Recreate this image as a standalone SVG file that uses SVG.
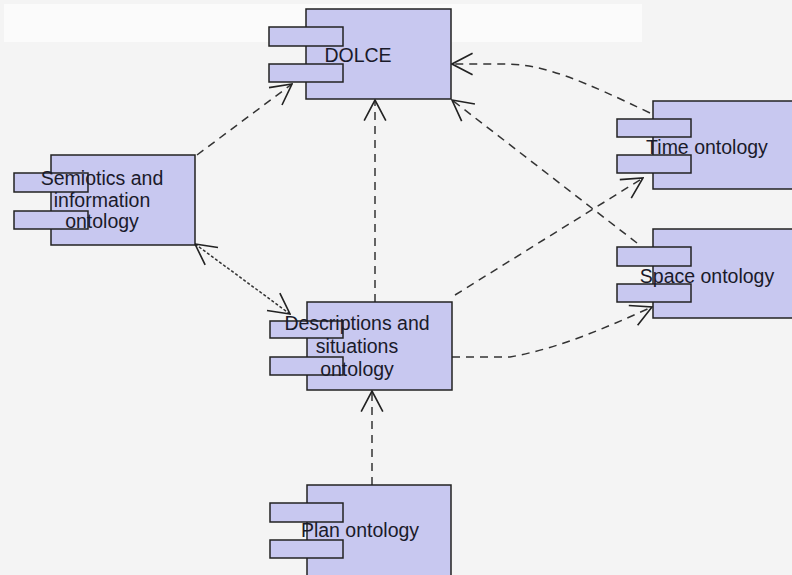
<svg xmlns="http://www.w3.org/2000/svg" width="792" height="575" viewBox="0 0 792 575">
  <defs>
    <style>
      .box { fill: #c8c8f0; stroke: #222; stroke-width: 1.5; }
      .lbl { font-family: "Liberation Sans", Arial, sans-serif; font-size: 19.5px; fill: #1a1a2a; text-anchor: middle; }
      .dep { fill: none; stroke: #333; stroke-width: 1.5; stroke-dasharray: 8 6; }
      .assoc { fill: none; stroke: #333; stroke-width: 1.5; stroke-dasharray: 3 2; }
    </style>
    <marker id="open" markerUnits="userSpaceOnUse" markerWidth="24" markerHeight="26" viewBox="0 0 22 24" refX="21" refY="12" orient="auto-start-reverse">
      <path d="M2,2 L21,12 L2,22" fill="none" stroke="#222" stroke-width="1.5" stroke-dasharray="none"/>
    </marker>
  </defs>
  <rect x="0" y="0" width="792" height="575" fill="#f4f4f4"/>
  <rect x="4" y="4" width="638" height="38" fill="#fbfbfb"/>

  <g id="connectors">
    <path class="dep" d="M197,155 L292,84" marker-end="url(#open)"/>
    <path class="dep" d="M375,302 L375,100" marker-end="url(#open)"/>
    <path class="dep" d="M650,113 C 585,82 545,64 505,64 L452,64" marker-end="url(#open)"/>
    <path class="dep" d="M637,243 L452,100" marker-end="url(#open)"/>
    <path class="dep" d="M455,295 L643,178" marker-end="url(#open)"/>
    <path class="dep" d="M452,357 L510,357 C 560,348 605,328 652,307" marker-end="url(#open)"/>
    <path class="assoc" d="M195,244 L290,314" marker-start="url(#open)" marker-end="url(#open)"/>
    <path class="dep" d="M372,485 L372,391" marker-end="url(#open)"/>
  </g>

  <g id="dolce">
    <rect class="box" x="306" y="9" width="145" height="90"/>
    <rect class="box" x="269" y="27" width="74" height="19"/>
    <rect class="box" x="269" y="64" width="74" height="18"/>
    <text class="lbl" x="358" y="62">DOLCE</text>
  </g>

  <g id="semiotics">
    <rect class="box" x="51" y="155" width="144" height="90"/>
    <rect class="box" x="14" y="173" width="74" height="19"/>
    <rect class="box" x="14" y="211" width="74" height="18"/>
    <text class="lbl" x="102" y="185">Semiotics and</text>
    <text class="lbl" x="102" y="207">information</text>
    <text class="lbl" x="102" y="228">ontology</text>
  </g>

  <g id="descriptions">
    <rect class="box" x="307" y="302" width="145" height="88"/>
    <rect class="box" x="270" y="321" width="73" height="17"/>
    <rect class="box" x="270" y="357" width="73" height="18"/>
    <text class="lbl" x="357" y="330">Descriptions and</text>
    <text class="lbl" x="357" y="353">situations</text>
    <text class="lbl" x="357" y="376">ontology</text>
  </g>

  <g id="time">
    <rect class="box" x="653" y="101" width="150" height="88"/>
    <rect class="box" x="617" y="119" width="74" height="18"/>
    <rect class="box" x="617" y="155" width="74" height="18"/>
    <text class="lbl" x="707" y="154">Time ontology</text>
  </g>

  <g id="space">
    <rect class="box" x="653" y="229" width="150" height="89"/>
    <rect class="box" x="617" y="247" width="74" height="19"/>
    <rect class="box" x="617" y="284" width="74" height="18"/>
    <text class="lbl" x="707" y="283">Space ontology</text>
  </g>

  <g id="plan">
    <rect class="box" x="307" y="485" width="144" height="100"/>
    <rect class="box" x="270" y="503" width="73" height="19"/>
    <rect class="box" x="270" y="540" width="73" height="18"/>
    <text class="lbl" x="360" y="537">Plan ontology</text>
  </g>
</svg>
